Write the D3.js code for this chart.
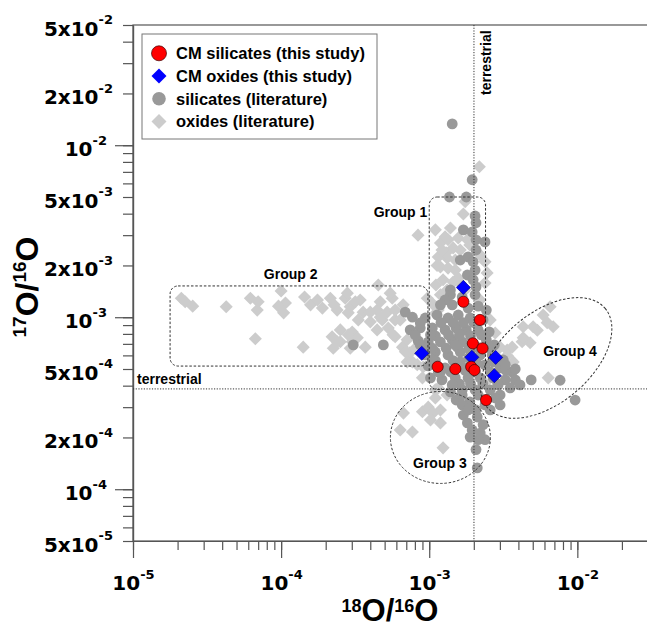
<!DOCTYPE html>
<html>
<head>
<meta charset="utf-8">
<script src="https://cdn.jsdelivr.net/npm/d3@7"></script>
<style>
body { margin: 0; background: #fff; }
text { font-family: "Liberation Sans", Arial, sans-serif; font-weight: bold; }
</style>
</head>
<body>
<div id="chart"></div>
<script>
// 18O/16O (x) and 17O/16O (y) of the grains
var cmSilicates = [[1.70e-3,1.23e-3],[2.20e-3,9.64e-4],[1.97e-3,7.05e-4],[2.29e-3,6.59e-4],[1.14e-3,5.15e-4],
  [1.50e-3,5.0e-4],[1.92e-3,5.15e-4],[2.02e-3,4.93e-4],[2.42e-3,3.30e-4]];
var cmOxides = [[1.70e-3,1.49e-3],[8.9e-4,6.17e-4],[1.94e-3,5.85e-4],[2.81e-3,5.84e-4],[2.75e-3,4.57e-4]];

var oxidesLit = [
  // group 2
  [2.12e-5,1.29e-3],[2.25e-5,1.23e-3],[2.53e-5,1.16e-3],[4.26e-5,1.15e-3],[6.2e-5,1.29e-3],[7.0e-5,1.23e-3],
  [6.9e-5,1.10e-3],[1.00e-4,1.42e-3],[1.07e-4,1.21e-3],[9.6e-5,1.16e-3],[1.04e-4,1.06e-3],[1.44e-4,1.31e-3],
  [1.58e-4,1.18e-3],[1.76e-4,1.26e-3],[1.90e-4,1.13e-3],[2.15e-4,1.29e-3],[2.28e-4,1.18e-3],[2.71e-4,1.29e-3],
  [2.93e-4,1.15e-3],[2.84e-4,1.06e-3],[3.17e-4,1.23e-3],[6.7e-5,7.5e-4],[1.41e-4,6.7e-4],[2.21e-4,7.7e-4],
  [2.25e-4,6.6e-4],[2.51e-4,7.2e-4],[3.02e-4,8.2e-4],[3.02e-4,7.2e-4],[3.42e-4,1.26e-3],[4.53e-4,1.54e-3],
  [5.63e-4,1.29e-3],[6.67e-4,1.18e-3],[9.7e-4,1.29e-3],[2.39e-4,1.10e-3],[3.58e-4,1.07e-3],[4.45e-4,1.10e-3],
  [5.2e-4,1.07e-3],[4.0e-4,9.4e-4],[4.82e-4,9.65e-4],[5.89e-4,9.65e-4],[5.29e-4,8.66e-4],[4.45e-4,8.44e-4],
  [2.51e-4,8.44e-4],[2.84e-4,7.9e-4],[3.27e-4,7.6e-4],[3.7e-4,6.7e-4],[2.39e-4,7.2e-4],[5.89e-4,7.7e-4],
  [6.6e-4,6.7e-4],[7.4e-4,6.2e-4],[7.1e-4,5.5e-4],[8.3e-4,5.3e-4],[2.8e-4,1.38e-3],[3.32e-4,9.65e-4],
  [4.0e-4,1.07e-3],[4.67e-4,1.23e-3],[4.67e-4,1.0e-3],[5.45e-4,1.38e-3],[5.89e-4,1.10e-3],[6.37e-4,9.65e-4],
  [5.7e-4,7.9e-4],[7.1e-4,7.4e-4],[8.05e-4,6.6e-4],[6.9e-4,6.3e-4],[7.7e-4,5.5e-4],[9.1e-4,5.14e-4],[2.93e-4,6.6e-4],
  // group 1
  [2.18e-3,7.5e-3],[1.75e-3,4.7e-3],[1.70e-3,3.98e-3],[8.4e-4,3.0e-3],[1.19e-3,2.7e-3],[1.34e-3,2.82e-3],
  [1.57e-3,2.89e-3],[1.45e-3,2.53e-3],[1.81e-3,2.82e-3],[2.21e-3,2.30e-3],[1.15e-3,2.24e-3],[1.32e-3,2.21e-3],
  [1.50e-3,2.15e-3],[1.19e-3,1.96e-3],[1.34e-3,1.93e-3],[2.46e-3,1.81e-3],[1.57e-3,1.69e-3],[1.24e-3,1.65e-3],
  [1.28e-3,2.93e-3],[2.38e-3,1.58e-3],[1.62e-3,1.58e-3],[1.30e-3,2.37e-3],[1.11e-3,1.54e-3],[1.32e-3,1.44e-3],
  [1.19e-3,1.35e-3],[1.05e-3,1.2e-3],[1.1e-3,1.05e-3],
  [1.10e-3,3.22e-3],[1.39e-3,3.3e-3],[1.13e-3,2.0e-3],[1.50e-3,1.88e-3],[1.75e-3,1.44e-3],[1.15e-3,1.1e-3],
  [1.88e-3,2.63e-3],[1.22e-3,2.46e-3],[1.62e-3,2.46e-3],[2.38e-3,2.1e-3],[2.21e-3,1.26e-3],[1.45e-3,1.6e-3],
  // around the main cluster
  [2.58e-3,9.65e-4],[2.79e-3,8.1e-4],[3.01e-3,6.7e-4],[3.36e-3,6.45e-4],[2.38e-3,4.15e-4],[1.10e-3,3.78e-4],[9.0e-4,4.44e-4],
  // group 4
  [6.55e-3,1.15e-3],[5.88e-3,1.03e-3],[6.87e-3,8.8e-4],[5.37e-3,8.4e-4],[4.31e-3,8.8e-4],[4.80e-3,7.1e-4],
  [4.24e-3,7.2e-4],[3.63e-3,6.7e-4],[3.36e-3,6.0e-4],[3.69e-3,5.5e-4],[6.36e-3,4.44e-4],[4.31e-3,7.6e-4],
  [5.03e-3,8.8e-4],[6.26e-3,9.3e-4],[2.87e-3,5.6e-4],
  // group 3
  [6.7e-4,2.77e-4],[6.37e-4,2.21e-4],[7.7e-4,2.15e-4],[9.0e-4,2.82e-4],[9.85e-4,3.0e-4],[1.06e-3,2.77e-4],
  [1.02e-3,2.53e-4],[1.19e-3,2.43e-4],[1.24e-3,1.74e-4],[1.15e-3,3.88e-4],[1.32e-3,3.53e-4],[1.50e-3,3.44e-4],
  [1.19e-3,2.89e-4],[1.10e-3,3.39e-4]
];

var silicatesLit = [
  [1.43e-3,1.33e-2],[1.95e-3,6.3e-3],[1.37e-3,5.0e-3],[1.78e-3,5.0e-3],[2.04e-3,3.88e-3],[2.07e-3,3.54e-3],
  [1.70e-3,3.22e-3],[1.95e-3,3.13e-3],[2.38e-3,2.74e-3],[1.62e-3,2.15e-3],[1.83e-3,2.24e-3],[1.98e-3,2.10e-3],
  [2.04e-3,1.88e-3],[1.81e-3,1.76e-3],[1.98e-3,1.65e-3],[1.39e-3,1.44e-3],[2.07e-3,1.50e-3],[2.07e-3,2.82e-3],
  [2.07e-3,2.46e-3],
  [1.39e-3,1.35e-3],[1.67e-3,1.31e-3],[2.04e-3,1.35e-3],[1.28e-3,1.26e-3],
  [1.19e-3,1.18e-3],[1.43e-3,1.18e-3],[1.83e-3,1.13e-3],[2.14e-3,1.16e-3],[2.43e-3,1.10e-3],
  [9.4e-4,9.9e-4],[1.13e-3,1.03e-3],[1.34e-3,9.9e-4],[1.57e-3,1.03e-3],[1.89e-3,9.9e-4],[2.31e-3,9.65e-4],
  [8.7e-4,8.66e-4],[1.05e-3,8.66e-4],[1.28e-3,8.44e-4],[1.52e-3,8.66e-4],[1.78e-3,8.44e-4],[2.14e-3,8.44e-4],[2.54e-3,8.22e-4],
  [8.43e-4,7.28e-4],[9.85e-4,7.18e-4],[1.19e-3,7.18e-4],[1.43e-3,7.38e-4],[1.67e-3,7.18e-4],[2.43e-3,7.38e-4],[2.75e-3,6.9e-4],
  [9.4e-4,6.04e-4],[1.10e-3,6.28e-4],[1.34e-3,6.04e-4],[1.62e-3,6.28e-4],[2.21e-3,6.04e-4],[2.66e-3,6.04e-4],[3.16e-3,5.64e-4],
  [9.85e-4,5.21e-4],[1.28e-3,5.07e-4],[1.62e-3,5.5e-4],[2.38e-3,5.28e-4],[3.01e-3,5.07e-4],[3.63e-3,4.81e-4],
  [1.02e-3,4.44e-4],[1.22e-3,4.32e-4],[1.50e-3,4.44e-4],[1.83e-3,4.44e-4],[2.21e-3,4.44e-4],[2.70e-3,4.44e-4],
  [3.26e-3,4.32e-4],[3.81e-3,4.32e-4],
  [1.39e-3,3.68e-4],[1.67e-3,3.78e-4],[2.04e-3,3.78e-4],[2.58e-3,3.78e-4],[3.01e-3,3.53e-4],[3.52e-3,3.88e-4],
  [1.52e-3,3.3e-4],[1.88e-3,3.22e-4],[2.38e-3,3.09e-4],[2.79e-3,3.39e-4],
  [1.2e-3,9.3e-4],[1.45e-3,9.3e-4],[1.7e-3,9.3e-4],[2.0e-3,9.3e-4],[1.1e-3,7.8e-4],[1.35e-3,7.9e-4],[1.6e-3,7.9e-4],
  [1.9e-3,7.8e-4],[2.25e-3,7.9e-4],[1.05e-3,6.6e-4],[1.3e-3,6.6e-4],[1.55e-3,6.7e-4],[1.85e-3,6.6e-4],[2.1e-3,6.7e-4],
  [1.1e-3,5.6e-4],[1.45e-3,5.6e-4],[1.85e-3,5.8e-4],[2.1e-3,5.4e-4],[2.7e-3,5.5e-4],[1.15e-3,4.8e-4],[1.4e-3,4.8e-4],
  [1.75e-3,4.9e-4],[2.05e-3,4.8e-4],[2.6e-3,4.8e-4],[3.3e-3,4.9e-4],[1.6e-3,4.1e-4],[1.9e-3,4.1e-4],[2.3e-3,4.1e-4],[2.9e-3,4.1e-4],
  [8.7e-4,6.9e-4],[1.05e-3,5.64e-4],[1.19e-3,4.8e-4],[1.43e-3,4.04e-4],[1.78e-3,5.07e-4],[2.58e-3,4.8e-4],
  [2.92e-3,4.04e-4],[1.02e-3,7.9e-4],[9.4e-4,6.45e-4],[1.50e-3,6.9e-4],[1.88e-3,6.45e-4],[2.58e-3,6.6e-4],
  [3.26e-3,5.3e-4],[3.81e-3,5.0e-4],[4.1e-3,4.04e-4],[3.01e-3,3.09e-4],[2.58e-3,2.89e-4],[2.14e-3,3.53e-4],
  [1.67e-3,3.53e-4],[2.07e-3,2.89e-4],[2.31e-3,2.37e-4],[2.38e-3,1.94e-4],[2.07e-3,1.7e-4],
  [6.89e-4,1.07e-3],[7.7e-4,1.0e-3],[8.7e-4,9.27e-4],[7.44e-4,8.44e-4],[8.05e-4,7.89e-4],
  [3.07e-4,6.9e-4],[4.9e-4,6.9e-4],
  [4.88e-3,4.32e-4],[7.65e-3,4.3e-4],[9.66e-3,3.3e-4],
  [1.67e-3,3.09e-4],[1.70e-3,2.7e-4],[1.81e-3,2.43e-4],[1.95e-3,2.21e-4],[1.89e-3,2.01e-4],[2.14e-3,1.94e-4],
  [2.21e-3,2.12e-4],[2.11e-3,2.63e-4],[1.83e-3,2.89e-4],[2.11e-3,1.33e-4]
];

var terrestrial = { x: 2.005e-3, y: 3.83e-4 };
var xLabelTicks = [1e-5, 1e-4, 1e-3, 1e-2];
var yLabelTicks = [5e-5, 1e-4, 2e-4, 5e-4, 1e-3, 2e-3, 5e-3, 1e-2, 2e-2, 5e-2];
var legendItems = ["CM silicates (this study)", "CM oxides (this study)", "silicates (literature)", "oxides (literature)"];

var width = 647, height = 628;
var padL = 133, padT = 25, padB = 541, padR = 648;

var x = d3.scaleLog().domain([1e-5, 3e-2]).range([padL, padR]);
var y = d3.scaleLog().domain([5e-5, 5e-2]).range([padB, padT]);

var svg = d3.select("#chart").append("svg")
  .attr("width", width)
  .attr("height", height);

var axisColor = "#555";
var lblFont = "DejaVu Sans, sans-serif";

// frame
svg.append("rect")
  .attr("x", padL).attr("y", padT)
  .attr("width", padR - padL).attr("height", padB - padT)
  .attr("fill", "none").attr("stroke", axisColor).attr("stroke-width", 1.2);

function isDecade(d) {
  var l = Math.log10(d);
  return Math.abs(l - Math.round(l)) < 1e-6;
}

function supLabel(d) {
  var t = d3.select(this);
  var e = Math.round(Math.floor(Math.log10(d) + 1e-9));
  var m = Math.round(d / Math.pow(10, e));
  t.text("");
  t.append("tspan").text(m === 1 ? "10" : m + "x10");
  t.append("tspan").attr("dy", "-0.85em").style("font-size", "13px").text(e);
}

function cleanAxis(g) {
  g.select(".domain").attr("stroke", axisColor).attr("stroke-width", 1.2);
  g.selectAll(".tick line").attr("stroke", axisColor).attr("stroke-width", 1.2);
}

// y axis ticks
svg.append("g").attr("transform", "translate(" + padL + ",0)")
  .call(d3.axisLeft(y).tickValues(y.ticks()).tickSize(10).tickSizeOuter(0).tickFormat(""))
  .call(cleanAxis);
svg.append("g").attr("transform", "translate(" + padL + ",0)")
  .call(d3.axisLeft(y).tickValues(y.ticks().filter(isDecade)).tickSize(18).tickSizeOuter(0).tickFormat(""))
  .call(cleanAxis);
var yLab = svg.append("g").attr("transform", "translate(" + padL + ",0)")
  .call(d3.axisLeft(y).tickValues(yLabelTicks).tickSize(0).tickSizeOuter(0));
yLab.select(".domain").remove();
yLab.selectAll(".tick text")
  .attr("x", function (d) { return isDecade(d) ? -26 : -20; })
  .attr("dy", "0.5em")
  .attr("fill", "#000")
  .style("font-family", lblFont).style("font-size", "20px").style("font-weight", "bold")
  .each(supLabel);

// x axis ticks
svg.append("g").attr("transform", "translate(0," + padB + ")")
  .call(d3.axisBottom(x).tickValues(x.ticks()).tickSize(9).tickSizeOuter(0).tickFormat(""))
  .call(cleanAxis);
svg.append("g").attr("transform", "translate(0," + padB + ")")
  .call(d3.axisBottom(x).tickValues(x.ticks().filter(isDecade)).tickSize(17).tickSizeOuter(0).tickFormat(""))
  .call(cleanAxis);
var xLab = svg.append("g").attr("transform", "translate(0," + padB + ")")
  .call(d3.axisBottom(x).tickValues(xLabelTicks).tickSize(0).tickSizeOuter(0));
xLab.select(".domain").remove();
xLab.selectAll(".tick text")
  .attr("y", 49).attr("dy", 0)
  .attr("fill", "#000")
  .style("font-family", lblFont).style("font-size", "20px").style("font-weight", "bold")
  .each(supLabel);

// axis titles
var xt = svg.append("text").attr("x", 390).attr("y", 621)
  .attr("text-anchor", "middle").style("font-size", "31px");
xt.append("tspan").attr("dy", -9).style("font-size", "18px").text("18");
xt.append("tspan").attr("dy", 9).text("O/");
xt.append("tspan").attr("dy", -9).style("font-size", "18px").text("16");
xt.append("tspan").attr("dy", 9).text("O");

var yt = svg.append("text").attr("transform", "translate(38,287) rotate(-90)")
  .attr("text-anchor", "middle").style("font-size", "32px");
yt.append("tspan").attr("dy", -12).style("font-size", "19px").text("17");
yt.append("tspan").attr("dy", 12).text("O/");
yt.append("tspan").attr("dy", -12).style("font-size", "19px").text("16");
yt.append("tspan").attr("dy", 12).text("O");

var plot = svg.append("g");

var diamond = d3.symbol().type(d3.symbolSquare);

// literature oxides
plot.append("g").selectAll("path")
  .data(oxidesLit).enter().append("path")
  .attr("d", diamond.size(86)())
  .attr("transform", function (d) { return "translate(" + x(d[0]) + "," + y(d[1]) + ") rotate(45)"; })
  .attr("fill", "#cccccc");

// literature silicates
plot.append("g").selectAll("circle")
  .data(silicatesLit).enter().append("circle")
  .attr("cx", function (d) { return x(d[0]); })
  .attr("cy", function (d) { return y(d[1]); })
  .attr("r", 5.4)
  .attr("fill", "#999999");

// group outlines
var dash = "2.5,1.8";
plot.append("rect")
  .attr("x", x(1.0e-3)).attr("y", y(5.0e-3))
  .attr("width", x(2.4e-3) - x(1.0e-3)).attr("height", y(3.8e-4) - y(5.0e-3))
  .attr("rx", 8)
  .attr("fill", "none").attr("stroke", "#333").attr("stroke-dasharray", dash);
plot.append("rect")
  .attr("x", x(1.78e-5)).attr("y", y(1.52e-3))
  .attr("width", x(9.8e-4) - x(1.78e-5)).attr("height", y(5.2e-4) - y(1.52e-3))
  .attr("rx", 8)
  .attr("fill", "none").attr("stroke", "#333").attr("stroke-dasharray", dash);
plot.append("ellipse")
  .attr("cx", x(1.19e-3)).attr("cy", y(2.0e-4))
  .attr("rx", 50).attr("ry", 46)
  .attr("fill", "none").attr("stroke", "#333").attr("stroke-dasharray", dash);
plot.append("ellipse")
  .attr("transform", "translate(" + x(6.16e-3) + "," + y(5.8e-4) + ") rotate(-40)")
  .attr("rx", 77).attr("ry", 45)
  .attr("fill", "none").attr("stroke", "#333").attr("stroke-dasharray", dash);

// terrestrial lines
plot.append("line")
  .attr("x1", x(terrestrial.x)).attr("x2", x(terrestrial.x))
  .attr("y1", padT).attr("y2", padB)
  .attr("stroke", "#333").attr("stroke-dasharray", "1.2,1.5");
plot.append("line")
  .attr("x1", padL).attr("x2", padR)
  .attr("y1", y(terrestrial.y)).attr("y2", y(terrestrial.y))
  .attr("stroke", "#333").attr("stroke-dasharray", "1.2,1.5");

// this study
plot.append("g").selectAll("path")
  .data(cmOxides).enter().append("path")
  .attr("d", diamond.size(100)())
  .attr("transform", function (d) { return "translate(" + x(d[0]) + "," + y(d[1]) + ") rotate(45)"; })
  .attr("fill", "#0000ff").attr("stroke", "#000080").attr("stroke-width", 0.6);
plot.append("g").selectAll("circle")
  .data(cmSilicates).enter().append("circle")
  .attr("cx", function (d) { return x(d[0]); })
  .attr("cy", function (d) { return y(d[1]); })
  .attr("r", 5.6)
  .attr("fill", "#ff0000").attr("stroke", "#400000").attr("stroke-width", 0.7);

// labels
svg.append("text").attr("x", padL + 4).attr("y", y(terrestrial.y) - 5)
  .style("font-size", "14px").text("terrestrial");
svg.append("text").attr("transform", "translate(" + (x(terrestrial.x) + 17) + ",95) rotate(-90)")
  .style("font-size", "14px").text("terrestrial");

var groupLabels = [
  { t: "Group 1", x: 6.4e-4, y: 3.85e-3 },
  { t: "Group 2", x: 1.16e-4, y: 1.66e-3 },
  { t: "Group 3", x: 1.18e-3, y: 1.32e-4 },
  { t: "Group 4", x: 8.93e-3, y: 5.95e-4 }
];
svg.append("g").selectAll("text")
  .data(groupLabels).enter().append("text")
  .attr("x", function (d) { return x(d.x); })
  .attr("y", function (d) { return y(d.y); })
  .attr("text-anchor", "middle")
  .style("font-size", "14px")
  .text(function (d) { return d.t; });

// legend
var lg = svg.append("g");
lg.append("rect").attr("x", 142).attr("y", 34).attr("width", 235).attr("height", 105)
  .attr("fill", "#fff").attr("stroke", "#777").attr("stroke-width", 1);
var rows = lg.selectAll(".row").data(legendItems).enter().append("g")
  .attr("transform", function (d, i) { return "translate(159," + (53.3 + i * 22.7) + ")"; });
rows.each(function (d, i) {
  var r = d3.select(this);
  if (i === 0) r.append("circle").attr("r", 7.5).attr("fill", "#ff0000").attr("stroke", "#400000").attr("stroke-width", 0.7);
  if (i === 1) r.append("path").attr("d", diamond.size(112)()).attr("transform", "rotate(45)").attr("fill", "#0000ff");
  if (i === 2) r.append("circle").attr("r", 6.8).attr("fill", "#999999");
  if (i === 3) r.append("path").attr("d", diamond.size(112)()).attr("transform", "rotate(45)").attr("fill", "#cccccc");
});
rows.append("text").attr("x", 17).attr("y", 6)
  .style("font-size", "16.5px")
  .text(function (d) { return d; });
</script>
</body>
</html>
